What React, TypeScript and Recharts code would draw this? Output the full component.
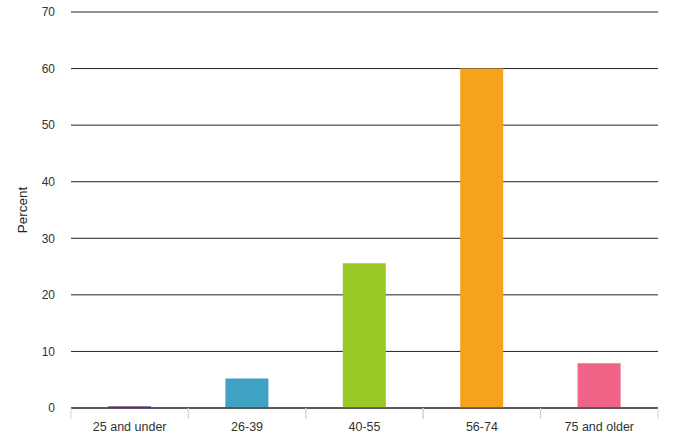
import React from 'react';
import { BarChart, Bar, XAxis, YAxis, CartesianGrid, Cell } from 'recharts';

const ageGroups = ['25 and under', '26-39', '40-55', '56-74', '75 and older'];
const percentValues = [0.3, 5.2, 25.6, 60, 7.9];
const barColors = ['#7a4f9a', '#3fa2c3', '#98c925', '#f5a31c', '#f06587'];
const yTicks = [0, 10, 20, 30, 40, 50, 60, 70];

const chartWidth = 681;
const chartHeight = 441;
const margin = { top: 12, right: 23, left: 11, bottom: 0 };
const yAxisWidth = 60;
const plotWidth = chartWidth - margin.left - margin.right - yAxisWidth;
const halfBand = plotWidth / ageGroups.length / 2;

const data = ageGroups.map((group, i) => ({ group, value: percentValues[i], color: barColors[i] }));

const XTick = (props: any) => {
  const { x, y, payload } = props;
  return (
    <g>
      <line x1={x - halfBand} x2={x - halfBand} y1={y - 8} y2={y + 3} stroke="#c9d5ea" />
      <line x1={x + halfBand} x2={x + halfBand} y1={y - 8} y2={y + 3} stroke="#c9d5ea" />
      <text x={x} y={y + 15} textAnchor="middle" fill="#333" fontSize={12.5}>
        {payload.value}
      </text>
    </g>
  );
};

export default function App() {
  return (
    <div style={{ position: 'absolute', left: 0, top: 0, fontFamily: '"Liberation Sans", Arial, sans-serif' }}>
      <BarChart width={chartWidth} height={chartHeight} data={data} margin={margin}>
        <CartesianGrid vertical={false} stroke="#222" />
        <XAxis
          dataKey="group"
          height={33}
          axisLine={{ stroke: '#222' }}
          tickLine={false}
          tick={<XTick />}
          interval={0}
        />
        <YAxis
          width={yAxisWidth}
          domain={[0, 70]}
          ticks={yTicks}
          axisLine={false}
          tickLine={false}
          tickMargin={10}
          tick={{ fill: '#333', fontSize: 12 }}
          label={{ value: 'Percent', angle: -90, position: 'insideLeft', offset: 11, style: { fill: '#222', fontSize: 13.5, textAnchor: 'middle' } }}
        />
        <Bar dataKey="value" barSize={43} isAnimationActive={false}>
          {data.map((d) => (
            <Cell key={d.group} fill={d.color} />
          ))}
        </Bar>
      </BarChart>
    </div>
  );
}
